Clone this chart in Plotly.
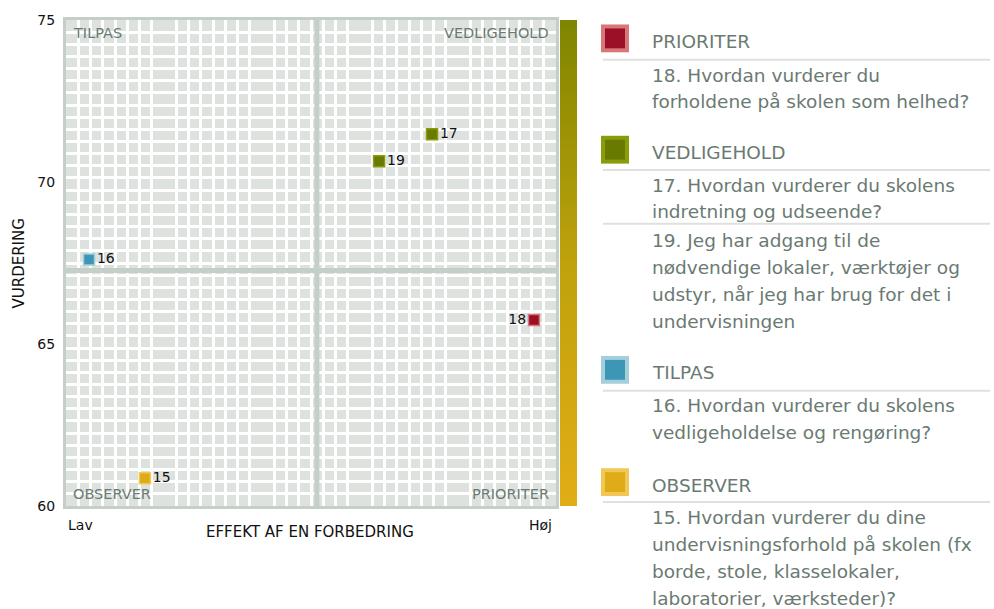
import plotly.graph_objects as go

# ---------------- data ----------------
point_ids = ["15", "16", "17", "18", "19"]
effect = [16.1, 4.7, 74.7, 95.5, 63.9]          # EFFEKT AF EN FORBEDRING (0 = Lav, 100 = Høj)
rating = [60.86, 67.61, 71.47, 65.74, 70.64]    # VURDERING
quadrant = ["OBSERVER", "TILPAS", "VEDLIGEHOLD", "PRIORITER", "VEDLIGEHOLD"]
mid_effect = 51.2
mid_rating = 67.27
y_ticks = [60, 65, 70, 75]

legend_groups = ["PRIORITER", "VEDLIGEHOLD", "TILPAS", "OBSERVER"]
legend_texts = {
    "PRIORITER": [["18. Hvordan vurderer du", "forholdene på skolen som helhed?"]],
    "VEDLIGEHOLD": [["17. Hvordan vurderer du skolens", "indretning og udseende?"],
                    ["19. Jeg har adgang til de", "nødvendige lokaler, værktøjer og",
                     "udstyr, når jeg har brug for det i", "undervisningen"]],
    "TILPAS": [["16. Hvordan vurderer du skolens", "vedligeholdelse og rengøring?"]],
    "OBSERVER": [["15. Hvordan vurderer du dine", "undervisningsforhold på skolen (fx",
                  "borde, stole, klasselokaler,", "laboratorier, værksteder)?"]],
}

# ---------------- styles ----------------
fill = {"PRIORITER": "#9b1026", "VEDLIGEHOLD": "#687a00", "TILPAS": "#3e96b6", "OBSERVER": "#e0ab18"}
edge = {"PRIORITER": "#d9767a", "VEDLIGEHOLD": "#8a9c0a", "TILPAS": "#a4cedc", "OBSERVER": "#f2c855"}
FONT = "DejaVu Sans"
GRAY = "#6a7a72"

W, H = 994, 609
L, R, T, B = 66, 417, 17, 103
PW, PH = W - L - R, H - T - B


def px(x):
    return (x - L) / PW


def py(y):
    return (H - B - y) / PH


fig = go.Figure()

for q in legend_groups:
    idx = [i for i, qq in enumerate(quadrant) if qq == q]
    fig.add_trace(go.Scatter(
        x=[effect[i] for i in idx], y=[rating[i] for i in idx],
        text=[point_ids[i] for i in idx], mode="markers+text",
        textposition=["middle left" if effect[i] > 90 else "middle right" for i in idx],
        textfont=dict(family=FONT, size=14, color="#111111"),
        marker=dict(symbol="square", size=11, color=fill[q], line=dict(color=edge[q], width=1.5)),
        showlegend=False, hoverinfo="skip", cliponaxis=False,
    ))

# gradient bar as colorbar
fig.add_trace(go.Scatter(
    x=[None], y=[None], mode="markers", showlegend=False, hoverinfo="skip",
    marker=dict(color=[0], cmin=0, cmax=1, colorscale=[[0, "#e2ad16"], [0.5, "#bfa20c"], [1, "#7f8500"]],
                showscale=True,
                colorbar=dict(x=px(560), xanchor="left", xref="paper", thickness=17, thicknessmode="pixels",
                              len=1, lenmode="fraction", y=0.5, yanchor="middle", ypad=0, xpad=0,
                              outlinewidth=0, showticklabels=False, ticks="")),
))

shapes = []
# quadrant dividers
shapes.append(dict(type="line", xref="x", yref="paper", x0=mid_effect, x1=mid_effect, y0=0, y1=1,
                   line=dict(color="#c3cfc7", width=5), layer="above"))
shapes.append(dict(type="line", xref="paper", yref="y", x0=0, x1=490 / PW, y0=mid_rating, y1=mid_rating,
                   line=dict(color="#c3cfc7", width=5), layer="above"))

annotations = []
qlabels = [("TILPAS", 71, 30, "left"), ("VEDLIGEHOLD", 551, 30, "right"),
           ("OBSERVER", 71, 494, "left"), ("PRIORITER", 551, 494, "right")]
for txt, x, y, anc in qlabels:
    annotations.append(dict(text=txt, x=px(x), y=py(y), xref="paper", yref="paper", xanchor=anc,
                            yanchor="middle", showarrow=False, font=dict(family=FONT, size=14.5, color=GRAY)))

annotations.append(dict(text="VURDERING", x=px(19), y=py(262), xref="paper", yref="paper", textangle=-90,
                        xanchor="center", yanchor="middle", showarrow=False,
                        font=dict(family=FONT, size=15, color="#111111")))
annotations.append(dict(text="EFFEKT AF EN FORBEDRING", x=px(310), y=py(532), xref="paper", yref="paper",
                        xanchor="center", yanchor="middle", showarrow=False,
                        font=dict(family=FONT, size=15, color="#111111")))
annotations.append(dict(text="Lav", x=px(66), y=py(525), xref="paper", yref="paper", xanchor="left",
                        yanchor="middle", showarrow=False, font=dict(family=FONT, size=14, color="#111111")))
annotations.append(dict(text="Høj", x=px(554), y=py(525), xref="paper", yref="paper", xanchor="right",
                        yanchor="middle", showarrow=False, font=dict(family=FONT, size=14, color="#111111")))

# custom legend
legend_layout = {
    "PRIORITER": dict(marker=35.5, seps=[57], lines=[[73, 99]]),
    "VEDLIGEHOLD": dict(marker=147.5, seps=[168, 222], lines=[[184, 210], [239, 266, 293, 320]]),
    "TILPAS": dict(marker=369, seps=[390], lines=[[405, 432]]),
    "OBSERVER": dict(marker=482, seps=[502], lines=[[518, 545, 572, 599]]),
}
for q in legend_groups:
    lay = legend_layout[q]
    my = lay["marker"]
    shapes.append(dict(type="rect", xref="paper", yref="paper", x0=px(601), x1=px(629),
                       y0=py(my + 14), y1=py(my - 14), fillcolor=edge[q], line=dict(width=0)))
    shapes.append(dict(type="rect", xref="paper", yref="paper", x0=px(605), x1=px(625),
                       y0=py(my + 10), y1=py(my - 10), fillcolor=fill[q], line=dict(width=0)))
    annotations.append(dict(text=q, x=px(650), y=py(my + 3), xref="paper", yref="paper", xanchor="left",
                            yanchor="middle", showarrow=False, font=dict(family=FONT, size=18.5, color=GRAY)))
    for s in lay["seps"]:
        shapes.append(dict(type="line", xref="paper", yref="paper", x0=px(603), x1=px(990),
                           y0=py(s), y1=py(s), line=dict(color="#e0e0e0", width=2)))
    for block, ys in zip(legend_texts[q], lay["lines"]):
        for line, yy in zip(block, ys):
            annotations.append(dict(text=line, x=px(650), y=py(yy), xref="paper", yref="paper",
                                    xanchor="left", yanchor="middle", showarrow=False,
                                    font=dict(family=FONT, size=18.5, color=GRAY)))

fig.update_layout(
    width=W, height=H, autosize=False,
    margin=dict(l=L, r=R, t=T, b=B, pad=0),
    paper_bgcolor="white", plot_bgcolor="#dde2df",
    shapes=shapes, annotations=annotations,
    xaxis=dict(range=[0, 100], domain=[0, 490 / PW], showticklabels=False, ticks="", zeroline=False,
               showgrid=False, showline=True, linecolor="#c3cfc7", linewidth=3, mirror=True,
               minor=dict(showgrid=True, tick0=0, dtick=2.5, gridcolor="white", gridwidth=2.5)),
    yaxis=dict(range=[60, 75], tickvals=y_ticks, ticks="", zeroline=False, showgrid=False,
               showline=True, linecolor="#c3cfc7", linewidth=3, mirror=True,
               tickfont=dict(family=FONT, size=14, color="#111111"), ticklabelstandoff=5,
               minor=dict(showgrid=True, tick0=60, dtick=15 / 40, gridcolor="white", gridwidth=2.5)),
    font=dict(family=FONT),
)

fig.write_html("out.html", config={"displayModeBar": False},
               post_script="document.body.style.margin='0';")
